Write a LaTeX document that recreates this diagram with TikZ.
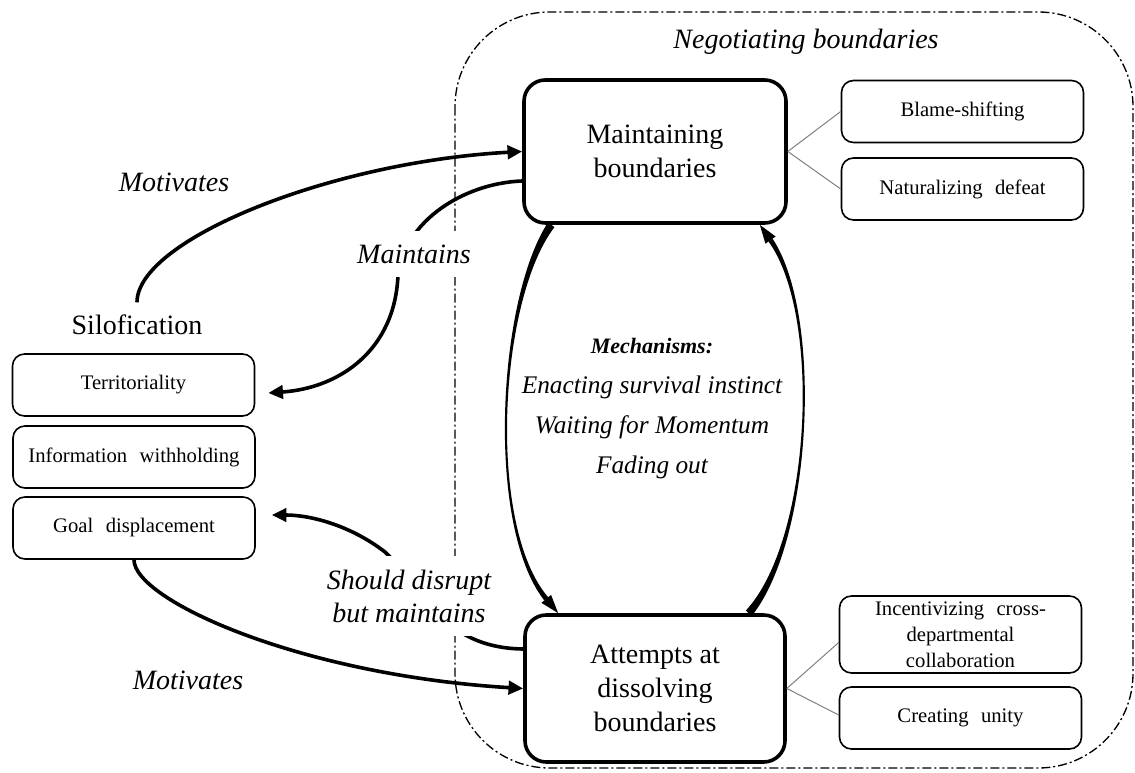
\documentclass[tikz,border=0pt]{standalone}
\usepackage{fontspec}
\setmainfont{Liberation Serif}
\usetikzlibrary{arrows.meta,calc}

\newcommand\widewords{\spaceskip=0.6em\relax}

\begin{document}
\begin{tikzpicture}[x=0.75pt,y=-0.75pt,
  bigbox/.style={draw,line width=2.7pt,rounded corners=16pt,fill=white,align=center,
    inner sep=0pt,font=\fontsize{21}{25.5}\selectfont},
  smallbox/.style={draw,line width=1.2pt,rounded corners=9pt,fill=white,align=center,
    inner sep=0pt,minimum width=181.5pt,minimum height=46.5pt,
    font=\fontsize{15.5}{19.5}\selectfont,execute at begin node=\widewords},
  flowarrow/.style={line width=2.7pt,-{Triangle[length=11pt,width=10pt]}},
  ringtip/.style={line width=1.3pt,-{Triangle[length=14pt,width=9pt]}},
  taper/.style={fill=black},
  thinlink/.style={draw=gray,line width=0.75pt},
  verblabel/.style={fill=white,inner xsep=4pt,inner ysep=10pt,align=center,
    font=\fontsize{21}{24.75}\selectfont\itshape},
  zoneline/.style={line width=1pt,dash pattern=on 6.75pt off 2.25pt on 1.5pt off 2.25pt}
]
\useasboundingbox (0,0) rectangle (1135,773);

% negotiating zone
\draw[zoneline,rounded corners=71pt] (455,12) rectangle (1133,768);
\node[font=\fontsize{21}{25}\selectfont\itshape] (neg) at (806,42) {Negotiating boundaries};

% main boxes
\node[bigbox,minimum width=196.5pt,minimum height=107.25pt] (mb) at (655,151.5) {Maintaining\\boundaries};
\node[bigbox,minimum width=195pt,minimum height=110.25pt] (ad) at (655,688.5) {Attempts at\\dissolving\\boundaries};

% strategies
\node[smallbox] (bl) at (962.5,111.5) {Blame-shifting};
\node[smallbox] (nd) at (962.5,189) {Naturalizing defeat};
\node[smallbox,minimum height=57.75pt] (ic) at (960.5,634.5) {Incentivizing cross-\\departmental\\collaboration};
\node[smallbox] (cu) at (960.5,718) {Creating unity};

% silofication
\node[font=\fontsize{21}{25}\selectfont] (silo) at (137,325) {Silofication};
\node[smallbox] (te) at (133.5,385) {Territoriality};
\node[smallbox] (iw) at (134,457) {Information withholding};
\node[smallbox] (gd) at (134,528) {Goal displacement};

% ties to strategies
\draw[thinlink] (mb.east) -- (bl.west);
\draw[thinlink] (mb.east) -- (nd.west);
\draw[thinlink] (ad.east) -- ($(ic.west)+(0,8)$);
\draw[thinlink] (ad.east) -- ($(cu.west)+(0,-3)$);

% relations
\draw[flowarrow] ($(silo.north)+(0,-8)$) .. controls (137,240) and (330,162) .. (mb.west);
\draw[flowarrow] ($(mb.west)+(0,29.5)$) .. controls (465,183) and (405,220) .. (398,275)
  .. controls (395,350) and (340,388) .. ($(te.east)+(13,8)$);
\draw[flowarrow] ($(ad.west)+(0,-39.5)$) .. controls (440,648) and (420,585) .. (385,552)
  .. controls (350,525) and (310,515) .. ($(gd.east)+(16,-13)$);
\draw[flowarrow] (gd.south) .. controls (134,600) and (300,675) .. (ad.west);

% cycle between the two main boxes: thin in the middle, swelling at both ends
\fill[taper] ($(mb.south west)+(32.26,2.32)$) .. controls (498.6,300) and (486.6,525.7) .. ($(ad.north west)+(24.97,-15.94)$)
  -- ($(ad.north west)+(21.13,-12.74)$) .. controls (485.4,525.7) and (497.4,300) .. ($(mb.south west)+(25.74,-2.32)$) -- cycle;
\draw[ringtip] ($(ad.north west)+(15.8,-23.04)$) -- ($(ad.north west)+(35,0)$);
\fill[taper] ($(ad.north east)+(-41,-2.6)$) .. controls (811.4,540) and (822.1,315.3) .. ($(mb.south east)+(-19.3,16.7)$)
  -- ($(mb.south east)+(-15.2,13.9)$) .. controls (823.3,315.3) and (812.6,540) .. ($(ad.north east)+(-35,2.6)$) -- cycle;
\draw[ringtip] ($(mb.south east)+(-10.78,24.57)$) -- ($(mb.south east)+(-28,0)$);

\node[align=center,font=\fontsize{19}{30}\selectfont\itshape] (mech) at (652,409)
  {{\fontsize{16.5}{30}\selectfont\bfseries Mechanisms:}\\Enacting survival instinct\\Waiting for Momentum\\Fading out};

% relation labels
\node[verblabel] (mot1) at (174,182) {Motivates};
\node[verblabel] (mnt) at (414,254) {Maintains};
\node[verblabel] (sdb) at (409,596) {Should disrupt\\but maintains};
\node[verblabel] (mot2) at (188,680) {Motivates};
\end{tikzpicture}
\end{document}
